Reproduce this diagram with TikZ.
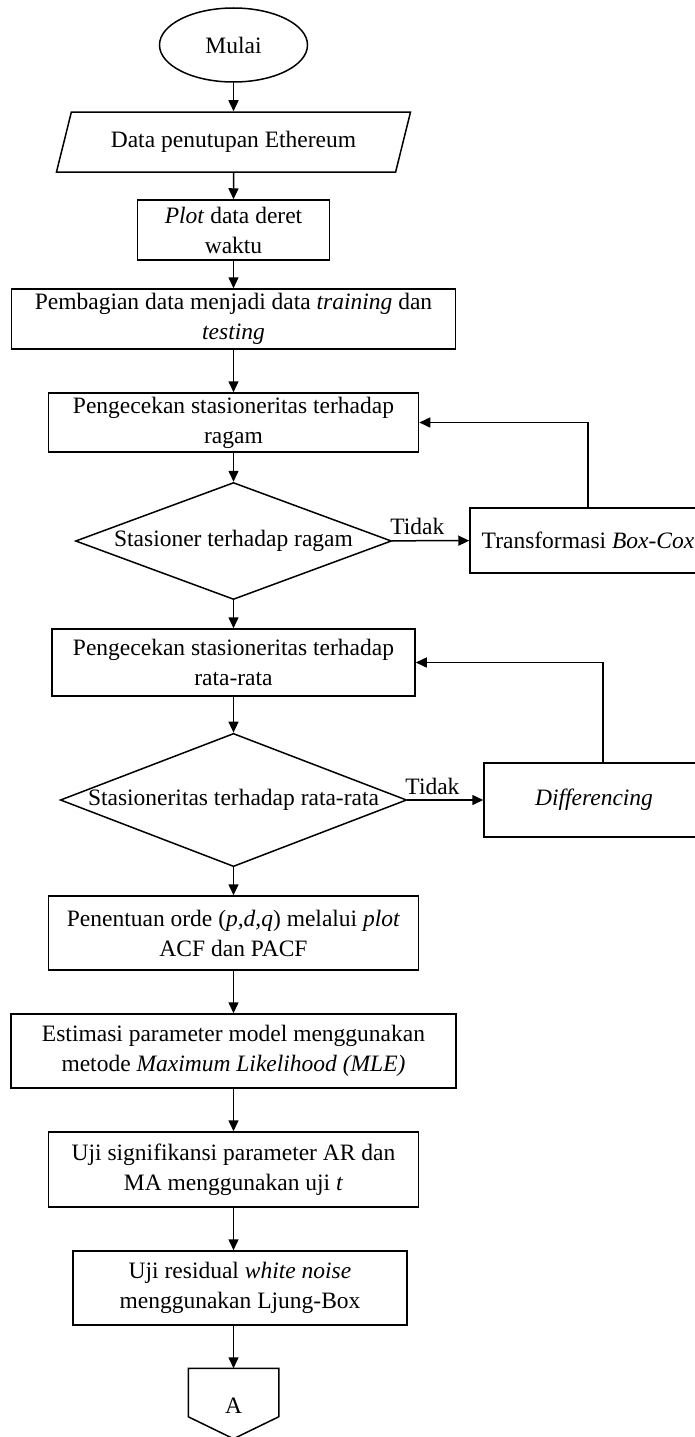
\documentclass[tikz,border=0pt]{standalone}
\usepackage{fontspec}
\setmainfont{Liberation Serif}
\usetikzlibrary{shapes.geometric,arrows.meta}

\begin{document}
\begin{tikzpicture}[x=1pt, y=-1pt, line width=1.5pt, >={Triangle[length=11pt,width=10pt]}]
		\tikzstyle{every node}=[align=center, inner sep=1pt, font=\fontsize{23.5}{30}\selectfont]
		\tikzstyle{proses}=[draw, rectangle, minimum height=60pt]
		\tikzstyle{keputusan}=[draw, diamond, inner sep=0pt]
		\useasboundingbox (0, 0) rectangle (695, 1437);

		\node [draw, ellipse, minimum width=148pt, minimum height=74pt] (mulai) at (233.5, 45) {Mulai};
		\node [draw, trapezium, trapezium left angle=64, trapezium right angle=116, trapezium stretches=true, minimum width=355pt, minimum height=60pt] (data) at (233.5, 142) {Data penutupan Ethereum};
		\node [proses, minimum width=192pt] (plot) at (233.5, 230) {\textit{Plot} data deret\\waktu};
		\node [proses, minimum width=444pt] (bagi) at (233.5, 319) {Pembagian data menjadi data \textit{training} dan\\\textit{testing}};
		\node [proses, minimum width=370pt, minimum height=59pt] (cekragam) at (233.5, 422.5) {Pengecekan stasioneritas terhadap\\ragam};
		\node [keputusan, shape aspect=2.7, minimum width=316pt, minimum height=117pt] (ragam) at (233.5, 541) {Stasioner terhadap ragam};
		\node [proses, minimum width=236pt, minimum height=65pt] (boxcox) at (588, 540.5) {Transformasi \textit{Box-Cox}};
		\node [proses, minimum width=363pt, minimum height=67pt] (cekrata) at (233.5, 662.5) {Pengecekan stasioneritas terhadap\\rata-rata};
		\node [keputusan, shape aspect=2.6, minimum width=346pt, minimum height=133pt] (rata) at (233.5, 800) {Stasioneritas terhadap rata-rata};
		\node [proses, minimum width=220pt, minimum height=74pt] (diff) at (594, 800) {\textit{Differencing}};
		\node [proses, minimum width=370pt, minimum height=74pt] (orde) at (233.5, 933) {Penentuan orde (\textit{p,d,q}) melalui \textit{plot}\\ACF dan PACF};
		\node [proses, minimum width=445pt, minimum height=74pt] (estimasi) at (233.5, 1051) {Estimasi parameter model menggunakan\\metode \textit{Maximum Likelihood (MLE)}};
		\node [proses, minimum width=370pt, minimum height=75pt] (ujisig) at (233.5, 1169.5) {Uji signifikansi parameter AR dan\\MA menggunakan uji \textit{t}};
		\node [proses, minimum width=334pt, minimum height=74pt] (ujires) at (240, 1288) {Uji residual \textit{white noise}\\menggunakan Ljung-Box};
		\node [minimum width=89pt, minimum height=47pt, inner sep=0pt] (konektor) at (233.5, 1392.5) {};
		\node (a) at (233.5, 1406) {A};
		\draw (konektor.south west) -- (konektor.north west) -- (konektor.north east) -- (konektor.south east) -- ([yshift=-22pt]konektor.south) -- cycle;

		\draw [->] (mulai) -- (data);
		\draw [->] (data) -- (plot);
		\draw [->] (plot) -- (bagi);
		\draw [->] (bagi) -- (cekragam);
		\draw [->] (cekragam) -- (ragam);
		\draw [->] (ragam) -- node [above=4pt, pos=0.33] {Tidak} (boxcox);
		\draw [->] (boxcox.north) |- (cekragam.east);
		\draw [->] (ragam) -- (cekrata);
		\draw [->] (cekrata) -- (rata);
		\draw [->] (rata) -- node [above=4pt, pos=0.33] {Tidak} (diff);
		\draw [->] ([xshift=9pt]diff.north) |- (cekrata.east);
		\draw [->] (rata) -- (orde);
		\draw [->] (orde) -- (estimasi);
		\draw [->] (estimasi) -- (ujisig);
		\draw [->] (ujisig.south) -- (ujisig.south |- ujires.north);
		\draw [->] (ujisig.south |- ujires.south) -- (konektor.north);
	\end{tikzpicture}
\end{document}
